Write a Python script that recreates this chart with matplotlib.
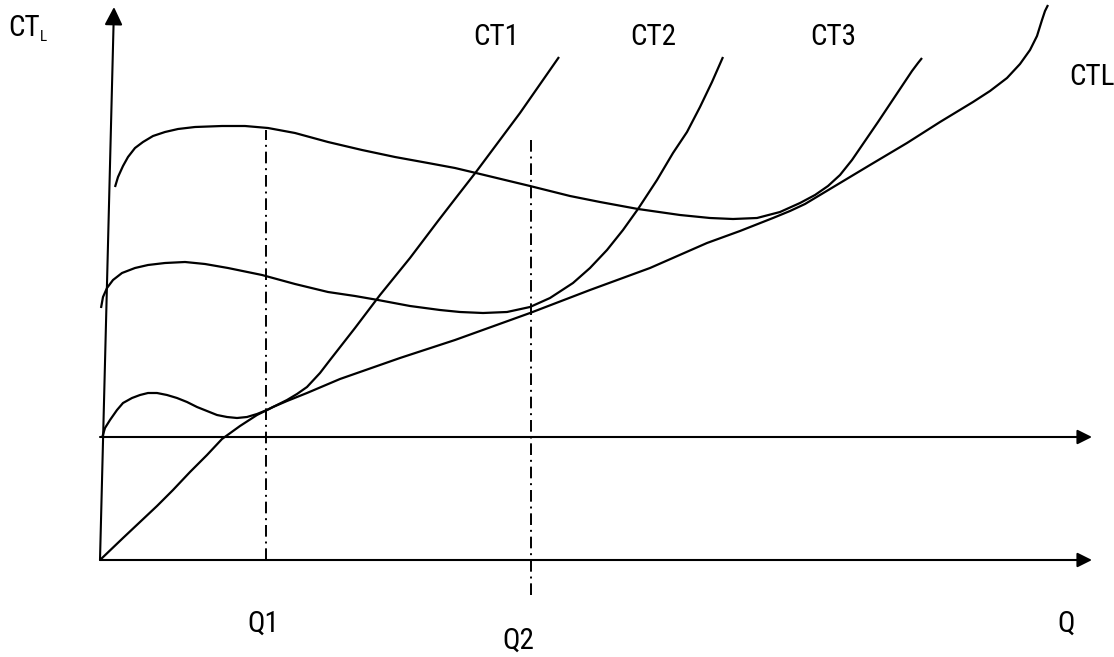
import matplotlib
matplotlib.use('Agg')
import matplotlib.pyplot as plt
from matplotlib import font_manager

# pick a narrow font if one is installed
names = {f.name for f in font_manager.fontManager.ttflist}
if 'Roboto Condensed' in names:
    family, fs, fs_sub = 'Roboto Condensed', 21, 11
elif 'Liberation Sans Narrow' in names:
    family, fs, fs_sub = 'Liberation Sans Narrow', 21, 11
else:
    family, fs, fs_sub = 'Liberation Sans', 17, 10
plt.rcParams['font.family'] = [family, 'DejaVu Sans']

# long run total cost (CTL)
ctl_q = [0, 2.3, 4, 5.7, 7.3, 9, 10.7, 12.2, 14, 15.7, 17.3, 18.7, 20.7, 24, 30, 35.5,
         43, 49, 55, 60.7, 64, 67.3, 69, 70.5, 72, 74, 77, 80.7, 84, 87.3, 89, 90.7,
         92, 93, 93.7, 94.2, 94.5, 94.8]
ctl_c = [0, 2.2, 3.8, 5.4, 7, 8.8, 10.5, 12.1, 13.4, 14.5, 15.3, 15.9, 16.7, 18.1, 20.2, 22,
         24.7, 27, 29.2, 31.7, 32.9, 34.2, 34.9, 35.6, 36.5, 37.7, 39.5, 41.7, 43.8, 45.8,
         46.9, 48.2, 49.6, 51, 52.4, 54, 54.9, 55.5]

# short run total costs
ct1_q = [0.2, 0.5, 1, 1.7, 2.3, 3.2, 4, 4.8, 5.7, 6.7, 7.7, 8.7, 9.7, 10.7, 11.7, 12.7,
         13.7, 14.7, 15.7, 16.7, 17.7, 18.7, 19.7, 20.7, 22, 23, 25.5, 28, 31, 33.8,
         35.5, 37.6, 42, 45.9]
ct1_c = [12.2, 13.2, 14, 15, 15.7, 16.2, 16.5, 16.7, 16.7, 16.5, 16.2, 15.8, 15.3, 14.9,
         14.5, 14.3, 14.2, 14.3, 14.6, 15, 15.5, 16, 16.6, 17.3, 18.7, 20, 23.2, 26.5,
         30.2, 33.9, 36.1, 38.8, 44.7, 50.3]

ct2_q = [0.1, 0.3, 0.7, 1.3, 2.2, 3.5, 4.8, 6.5, 8.5, 10.5, 12.8, 16.2, 19.5, 22.8, 25.5,
         27.8, 31, 34, 36, 38.3, 40.7, 43, 45, 47.3, 49, 50.7, 52.3, 53.8, 55.7, 57.3,
         58.7, 60, 61.2, 62.3]
ct2_c = [25.2, 26.3, 27.2, 28, 28.7, 29.2, 29.5, 29.7, 29.8, 29.6, 29.2, 28.5, 27.6, 26.8,
         26.4, 26, 25.4, 25, 24.8, 24.7, 24.8, 25.3, 26.2, 27.7, 29.2, 31, 33, 35.1, 38,
         40.7, 42.8, 45.3, 47.8, 50.3]

ct3_q = [1.5, 1.8, 2.3, 2.8, 3.5, 4.3, 5.3, 6.5, 7.8, 9.5, 12.2, 14.5, 16.8, 19.5, 22.8,
         26.2, 29.5, 32.8, 35.5, 37.6, 43, 47, 50, 53.8, 58, 61, 63.3, 65.7, 68, 70, 71.5,
         72.8, 74, 75.2, 76.5, 77.8, 79, 80.2, 81.2, 81.8, 82.2]
ct3_c = [37.3, 38.3, 39.4, 40.3, 41.2, 41.8, 42.4, 42.8, 43.1, 43.3, 43.4, 43.4, 43.2, 42.7,
         41.8, 41, 40.3, 39.7, 39.2, 38.7, 37.4, 36.4, 35.8, 35.1, 34.5, 34.2, 34.1, 34.2,
         34.8, 35.7, 36.5, 37.4, 38.5, 40, 41.9, 43.8, 45.6, 47.4, 48.9, 49.7, 50.2]

q1, q2 = 16.6, 43.1
q1_top, q2_top, q2_bottom = 43, 42, -3.5
upper_axis = 12.3
x_end = 99.2
y_axis_top = (1.4, 55.3)

fig = plt.figure(figsize=(11.14, 6.57), dpi=100)
ax = fig.add_axes([0, 0, 1, 1])
ax.set_xlim(-10, 101.4)
ax.set_ylim(-9.7, 56)
ax.axis('off')

arrow = dict(arrowstyle='-|>', color='black', lw=1.5, mutation_scale=22,
             shrinkA=0, shrinkB=0)
ax.annotate('', xy=(x_end, 0), xytext=(0, 0), arrowprops=arrow)
ax.annotate('', xy=(x_end, upper_axis), xytext=(0, upper_axis), arrowprops=arrow)
ax.annotate('', xy=y_axis_top, xytext=(0, 0), arrowprops=dict(arrow, mutation_scale=27))

for qq, cc in [(ctl_q, ctl_c), (ct1_q, ct1_c), (ct2_q, ct2_c), (ct3_q, ct3_c)]:
    ax.plot(qq, cc, color='black', lw=1.6, solid_joinstyle='round', solid_capstyle='butt')

dashdot = (0, (6, 2.5, 1, 2.5))
ax.plot([q1, q1], [0, q1_top], color='black', lw=1.4, ls=dashdot)
ax.plot([q2, q2], [q2_bottom, q2_top], color='black', lw=1.4, ls=dashdot)

ax.text(-9.2, 52.35, 'CT', fontsize=fs, va='baseline')
ax.text(-6.0, 51.9, 'L', fontsize=fs_sub, va='baseline')
ax.text(37.3, 51.5, 'CT1', fontsize=fs, va='baseline')
ax.text(53.0, 51.5, 'CT2', fontsize=fs, va='baseline')
ax.text(71.0, 51.5, 'CT3', fontsize=fs, va='baseline')
ax.text(96.9, 47.5, 'CTL', fontsize=fs, va='baseline')
ax.text(14.7, -7.2, 'Q1', fontsize=fs, va='baseline')
ax.text(40.2, -8.9, 'Q2', fontsize=fs, va='baseline')
ax.text(95.7, -7.2, 'Q', fontsize=fs, va='baseline')

fig.savefig('out.png', dpi=100)
